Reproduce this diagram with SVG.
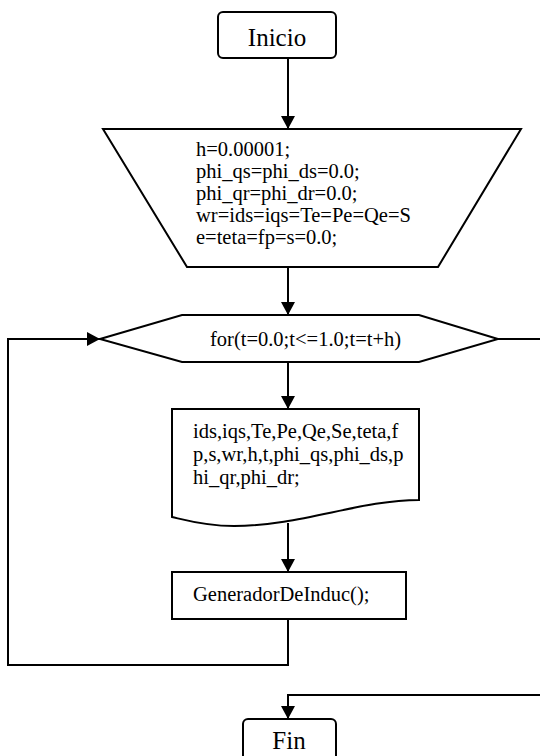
<svg xmlns="http://www.w3.org/2000/svg" width="540" height="756" viewBox="0 0 540 756">
<style>
.s{fill:#fff;stroke:#000;stroke-width:2}
.t{font-family:'Liberation Serif','Times New Roman',Times,serif;font-size:20.5px;fill:#000}
.b{font-size:25px}
.c{fill:none;stroke:#000;stroke-width:2}
</style>
<defs>
<marker id="ah" markerWidth="14" markerHeight="14" refX="13" refY="7" orient="auto" markerUnits="userSpaceOnUse">
<path d="M0,0 L13,7 L0,14 Z" fill="#000"/>
</marker>
</defs>
<g id="connectors">
<path class="c" d="M288,58 V129" marker-end="url(#ah)"/>
<path class="c" d="M288,267 V315" marker-end="url(#ah)"/>
<path class="c" d="M288,362 V409" marker-end="url(#ah)"/>
<path class="c" d="M288,523 V572" marker-end="url(#ah)"/>
<path class="c" d="M288,619 V665 H8 V339 H100" marker-end="url(#ah)"/>
<path class="c" d="M498,339 H542"/>
<path class="c" d="M542,695 H288 V719" marker-end="url(#ah)"/>
</g>
<g id="inicio" font-family="Liberation Serif, serif">
<rect class="s" x="218" y="12" width="118" height="46" rx="5"/>
<text class="t b" x="277" y="46" text-anchor="middle">Inicio</text>
</g>
<g id="init" font-family="Liberation Serif, serif">
<polygon class="s" points="103,129 521,129 438,267 187,267"/>
<text class="t" x="196" y="156">h=0.00001;</text>
<text class="t" x="196" y="178">phi_qs=phi_ds=0.0;</text>
<text class="t" x="196" y="200">phi_qr=phi_dr=0.0;</text>
<text class="t" x="196" y="222">wr=ids=iqs=Te=Pe=Qe=S</text>
<text class="t" x="196" y="244">e=teta=fp=s=0.0;</text>
</g>
<g id="loop" font-family="Liberation Serif, serif">
<polygon class="s" points="100,339 182,315 419,315 498,339 419,362 182,362"/>
<text class="t" x="210" y="346">for(t=0.0;t&lt;=1.0;t=t+h)</text>
</g>
<g id="output" font-family="Liberation Serif, serif">
<path class="s" d="M172,409 H419 V500 C360,500 300,526 234,526 C205,526 185,520 172,517 Z"/>
<text class="t" x="193" y="438">ids,iqs,Te,Pe,Qe,Se,teta,f</text>
<text class="t" x="193" y="461">p,s,wr,h,t,phi_qs,phi_ds,p</text>
<text class="t" x="193" y="484">hi_qr,phi_dr;</text>
</g>
<g id="generador" font-family="Liberation Serif, serif">
<rect class="s" x="172" y="572" width="234" height="47"/>
<text class="t" x="193" y="601">GeneradorDeInduc();</text>
</g>
<g id="fin" font-family="Liberation Serif, serif">
<rect class="s" x="243" y="719" width="93" height="44" rx="5"/>
<text class="t b" x="289" y="749" text-anchor="middle">Fin</text>
</g>
</svg>
